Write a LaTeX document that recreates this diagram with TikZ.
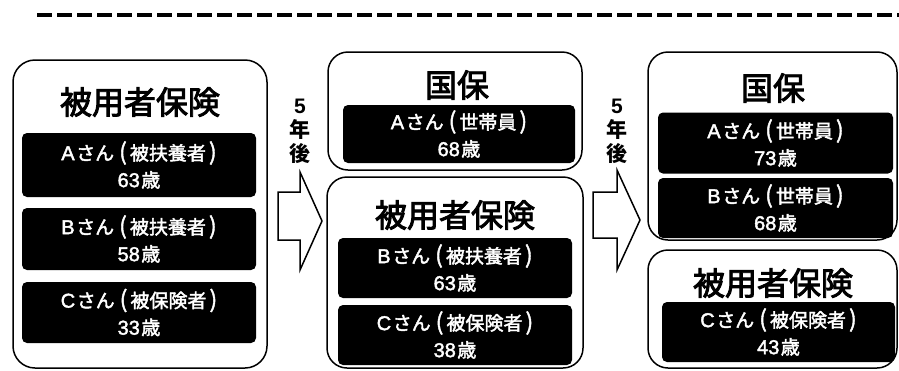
\documentclass[tikz,border=0pt]{standalone}
\usepackage{fontspec}
\newfontfamily\jp{Noto Sans CJK JP}
\newfontfamily\lat{Liberation Sans}
\newcommand{\heavyon}[1]{\special{pdf:literal direct 2 Tr #1 w}}
\newcommand{\heavyoff}{\special{pdf:literal direct 0 Tr}}
\newcommand{\medtext}[2]{\heavyon{#1}#2\heavyoff}
\newcommand{\latbig}[1]{{\lat\fontsize{20}{27}\selectfont #1}}
\newcommand{\bigparen}[1]{{\fontsize{23}{27}\selectfont #1}}
% #1 letter, #2 role, #3 age digits
\newcommand{\persontext}[3]{%
  \medtext{0.4}{\latbig{#1}\hspace{1.5pt}さん\hspace{5pt}\bigparen{(}\hspace{3pt}#2\hspace{3pt}\bigparen{)}}\\
  \medtext{0.4}{\latbig{#3}\hspace{1.5pt}歳}}
\begin{document}
\begin{tikzpicture}[x=1pt,y=-1pt,
  outerbox/.style={draw=black,line width=1.5pt,rounded corners=22pt,inner sep=0pt},
  blackbox/.style={fill=black,rounded corners=5pt,inner sep=0pt,text=white,align=center,
    font=\jp\fontsize{19}{27}\selectfont},
  titletext/.style={font=\jp\fontsize{32}{36}\selectfont,inner sep=0pt},
  yeartext/.style={font=\jp\bfseries\fontsize{21}{24}\selectfont,align=center,inner sep=0pt},
  blockarrow/.style={draw=black,line width=1.5pt,fill=white,line join=miter}]
\useasboundingbox (0,0) rectangle (899,370);
% dashed line
\coordinate (dl) at (37,15);
\coordinate (dr) at (899,15);
\draw[line width=4.5pt,dash pattern=on 15pt off 5pt] (dl) -- (dr);
% outer boxes
\node[outerbox,minimum width=254pt,minimum height=308pt] (L) at (140,214) {};
\node[outerbox,minimum width=254pt,minimum height=118pt,rounded corners=20pt] (MT) at (455,111) {};
\node[outerbox,minimum width=256pt,minimum height=191pt,rounded corners=20pt] (MB) at (455,272.5) {};
\node[outerbox,minimum width=249pt,minimum height=188pt,rounded corners=20pt] (RT) at (772.5,146) {};
\node[outerbox,minimum width=249pt,minimum height=118pt,rounded corners=20pt] (RB) at (772.5,309) {};
% titles
\node[titletext] (Lt) at (140,102) {\medtext{0.9}{被用者保険}};
\node[titletext] (MTt) at (457,85) {\medtext{0.9}{国保}};
\node[titletext] (MBt) at (455,215) {\medtext{0.9}{被用者保険}};
\node[titletext] (RTt) at (773,88) {\medtext{0.9}{国保}};
\node[titletext] (RBt) at (773,283) {\medtext{0.9}{被用者保険}};
% black boxes
\node[blackbox,minimum width=234pt,minimum height=64pt] (LA) at (139,165) {\persontext{A}{被扶養者}{63}};
\node[blackbox,minimum width=234pt,minimum height=62pt] (LB) at (139,239) {\persontext{B}{被扶養者}{58}};
\node[blackbox,minimum width=234pt,minimum height=61pt] (LC) at (139,312.5) {\persontext{C}{被保険者}{33}};
\node[blackbox,minimum width=232pt,minimum height=58pt] (MA) at (459,134) {\persontext{A}{世帯員}{68}};
\node[blackbox,minimum width=234pt,minimum height=60pt] (MBB) at (455,268) {\persontext{B}{被扶養者}{63}};
\node[blackbox,minimum width=234pt,minimum height=60pt] (MC) at (455,335) {\persontext{C}{被保険者}{38}};
\node[blackbox,minimum width=235pt,minimum height=61pt] (RA) at (775.5,143) {\persontext{A}{世帯員}{73}};
\node[blackbox,minimum width=235pt,minimum height=60pt] (RBB) at (775.5,208) {\persontext{B}{世帯員}{68}};
\node[blackbox,minimum width=233pt,minimum height=60pt] (RC) at (778.5,332) {\persontext{C}{被保険者}{43}};
% year labels
\node[yeartext] (y1) at (300,131) {{\lat\bfseries 5}\\年\\後};
\node[yeartext] (y2) at (617,131) {{\lat\bfseries 5}\\年\\後};
% block arrows
\draw[blockarrow] (278,192) -- (300,192) -- (300,172) -- (322,221) -- (300,270) -- (300,240) -- (278,240) -- cycle;
\draw[blockarrow] (593,192) -- (617,192) -- (617,170) -- (640,220) -- (617,270) -- (617,238) -- (593,238) -- cycle;
\end{tikzpicture}
\end{document}
